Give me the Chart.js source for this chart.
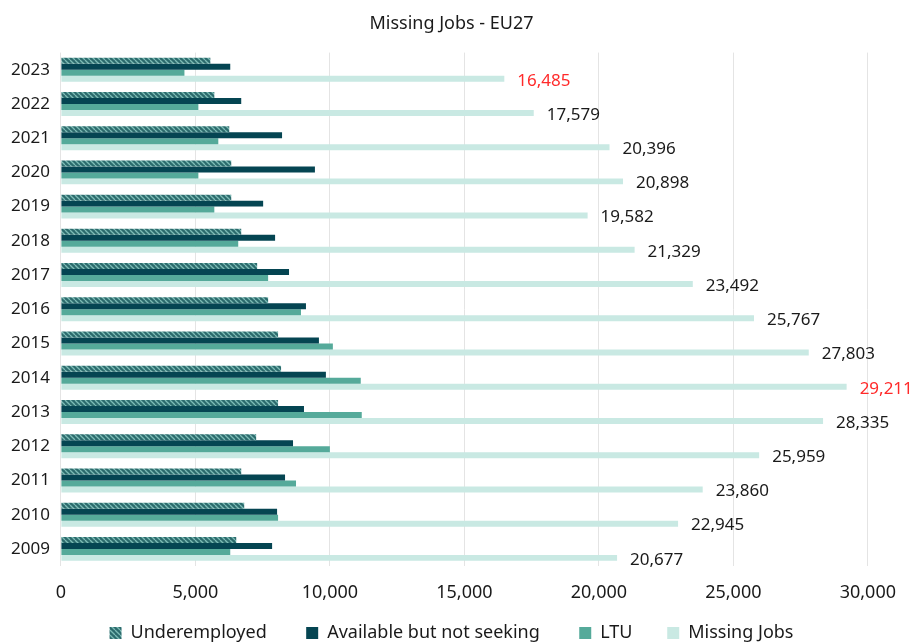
<!DOCTYPE html>
<html>
<head>
<meta charset="utf-8">
<script src="https://cdn.jsdelivr.net/npm/chart.js@4.4.1/dist/chart.umd.min.js"></script>
<style>
  body { margin: 0; background: #fff; }
  #wrap { width: 912px; height: 643px; position: relative; }
</style>
</head>
<body>
<div id="wrap"><canvas id="grafica"></canvas></div>
<script>
const years = ['2009', '2010', '2011', '2012', '2013', '2014', '2015', '2016', '2017', '2018', '2019', '2020', '2021', '2022', '2023'];
const underemployed = [6519, 6815, 6704, 7259, 8074, 8185, 8074, 7704, 7296, 6704, 6333, 6333, 6259, 5704, 5556];
const availableNotSeeking = [7852, 8037, 8333, 8630, 9037, 9852, 9593, 9111, 8481, 7963, 7519, 9444, 8222, 6704, 6296];
const ltu = [6296, 8074, 8741, 10000, 11185, 11148, 10111, 8926, 7704, 6593, 5704, 5111, 5852, 5111, 4593];
const missingJobs = [20677, 22945, 23860, 25959, 28335, 29211, 27803, 25767, 23492, 21329, 19582, 20898, 20396, 17579, 16485];
const xTicks = [0, 5000, 10000, 15000, 20000, 25000, 30000];

const FONT = '"Noto Sans", sans-serif';

// patrón rayado para Underemployed
function hatchPattern() {
    const c = document.createElement('canvas');
    c.width = 5;
    c.height = 5;
    const g = c.getContext('2d');
    g.fillStyle = '#2c6b6d';
    g.fillRect(0, 0, 5, 5);
    g.strokeStyle = '#7dbcb5';
    g.lineWidth = 1.3;
    for (let k = -5; k <= 10; k += 5) {
        g.beginPath();
        g.moveTo(k, 0);
        g.lineTo(k + 5, 5);
        g.stroke();
    }
    return g.createPattern(c, 'repeat');
}
const hatch = hatchPattern();

// etiquetas de Missing Jobs (min y max en rojo)
const maxMissing = Math.max(...missingJobs);
const minMissing = Math.min(...missingJobs);
const missingLabels = {
    id: 'missingLabels',
    afterDatasetsDraw(chart) {
        const ctx = chart.ctx;
        const meta = chart.getDatasetMeta(3);
        ctx.save();
        ctx.font = '17px ' + FONT;
        ctx.textBaseline = 'middle';
        ctx.textAlign = 'left';
        meta.data.forEach((bar, i) => {
            const v = missingJobs[i];
            ctx.fillStyle = (v === maxMissing || v === minMissing) ? '#ff2a2a' : '#1a1a1a';
            ctx.fillText(v.toLocaleString('en-US'), bar.x + 13, bar.y + 2);
        });
        ctx.restore();
    }
};

new Chart(document.getElementById('grafica'), {
    type: 'bar',
    data: {
        labels: years,
        datasets: [
            { label: 'Underemployed', data: underemployed, backgroundColor: hatch },
            { label: 'Available but not seeking', data: availableNotSeeking, backgroundColor: '#054552' },
            { label: 'LTU', data: ltu, backgroundColor: '#55aa9a' },
            { label: 'Missing Jobs', data: missingJobs, backgroundColor: '#c9e9e3' }
        ]
    },
    options: {
        indexAxis: 'y',
        responsive: true,
        maintainAspectRatio: false,
        animation: false,
        datasets: { bar: { categoryPercentage: 0.7, barPercentage: 1.0 } },
        layout: { padding: { left: 0, right: 9, top: 6, bottom: -9 } },
        plugins: {
            title: {
                display: true,
                text: 'Missing Jobs - EU27',
                color: '#1a1a1a',
                font: { family: FONT, size: 18, weight: 'normal' },
                padding: { top: 7, bottom: 18 }
            },
            legend: {
                position: 'bottom',
                labels: {
                    color: '#1a1a1a',
                    font: { family: FONT, size: 18 },
                    boxWidth: 12,
                    boxHeight: 12,
                    padding: 2,
                    // espacios al final para separar los elementos
                    generateLabels: chart => {
                        const items = Chart.defaults.plugins.legend.labels.generateLabels(chart);
                        const extra = ['        ', '        ', '       ', ''];
                        items.forEach((it, i) => { it.text = it.text + extra[i]; });
                        return items;
                    }
                }
            },
            tooltip: { enabled: false }
        },
        scales: {
            x: {
                min: 0,
                max: 30000,
                afterBuildTicks: axis => { axis.ticks = xTicks.map(v => ({ value: v })); },
                afterFit: axis => { axis.height = 56; },
                ticks: {
                    color: '#1a1a1a',
                    font: { family: FONT, size: 18 },
                    padding: 16,
                    callback: v => v.toLocaleString('en-US')
                },
                grid: { color: '#e4e4e4', drawTicks: false },
                border: { display: false }
            },
            y: {
                reverse: true,
                ticks: {
                    color: '#1a1a1a',
                    font: { family: FONT, size: 17 },
                    padding: 11
                },
                grid: { display: false, drawTicks: false },
                border: { display: false }
            }
        }
    },
    plugins: [missingLabels]
});
</script>
</body>
</html>
